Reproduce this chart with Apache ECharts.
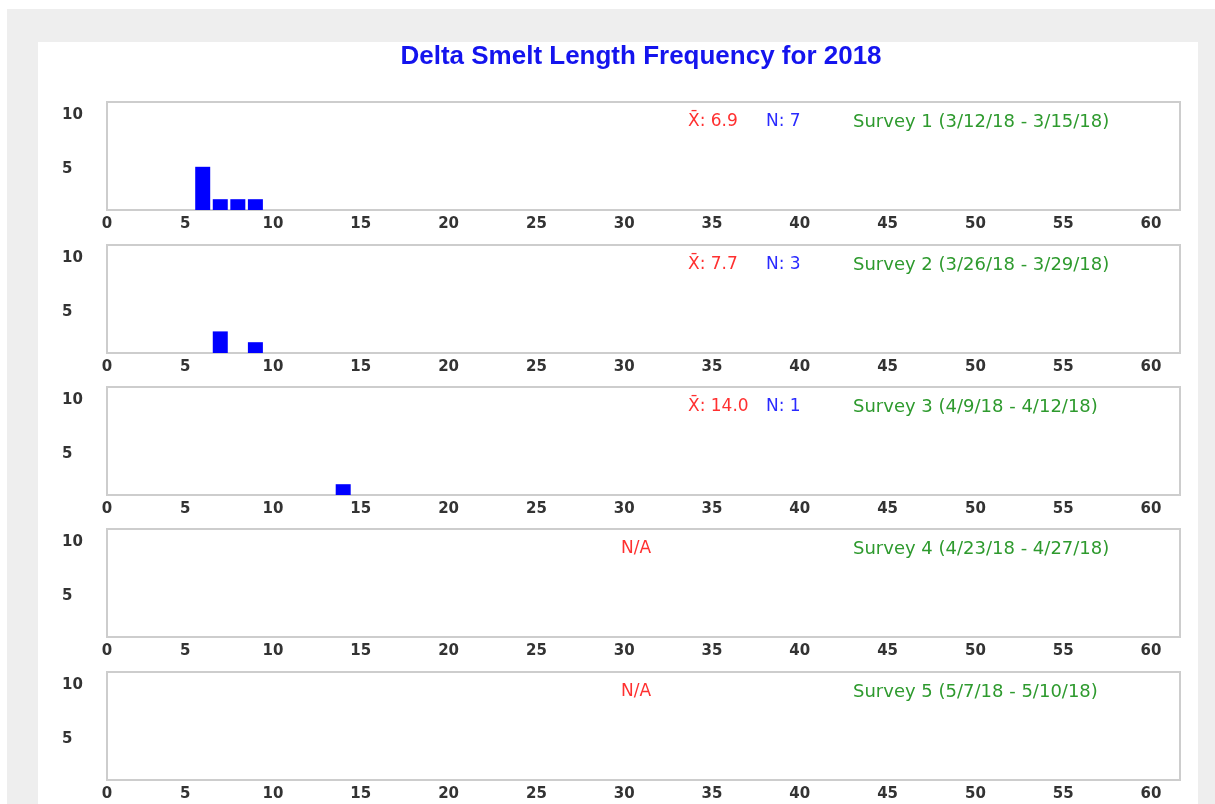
<!DOCTYPE html>
<html>
<head>
<meta charset="utf-8">
<script src="https://cdn.jsdelivr.net/npm/echarts@6/dist/echarts.min.js"></script>
<style>
  html, body { margin: 0; padding: 0; background: #ffffff; }
  #bg { position: absolute; left: 7px; top: 9px; width: 1208px; height: 795px; background: #eeeeee; }
  #panel { position: absolute; left: 38px; top: 42px; width: 1160px; height: 762px; background: #ffffff; }
  #chart { position: absolute; left: 0; top: 0; width: 1215px; height: 804px; }
</style>
</head>
<body>
<div id="bg"></div>
<div id="panel"></div>
<div id="chart"></div>
<script>
const chartTitle = 'Delta Smelt Length Frequency for 2018';
const surveyLabels = [
  'Survey 1 (3/12/18 - 3/15/18)',
  'Survey 2 (3/26/18 - 3/29/18)',
  'Survey 3 (4/9/18 - 4/12/18)',
  'Survey 4 (4/23/18 - 4/27/18)',
  'Survey 5 (5/7/18 - 5/10/18)'
];
// fork length (mm) and fish count per survey
const s1Lengths = [6, 7, 8, 9];
const s1Counts  = [4, 1, 1, 1];
const s2Lengths = [7, 9];
const s2Counts  = [2, 1];
const s3Lengths = [14];
const s3Counts  = [1];
const s4Lengths = [];
const s4Counts  = [];
const s5Lengths = [];
const s5Counts  = [];
const xTickValues = [0, 5, 10, 15, 20, 25, 30, 35, 40, 45, 50, 55, 60];
const xTickLabels = ['0','5','10','15','20','25','30','35','40','45','50','55','60'];
const yTickValues = [5, 10];
const yTickLabels = ['5', '10'];

const surveys = [
  [s1Lengths, s1Counts], [s2Lengths, s2Counts], [s3Lengths, s3Counts],
  [s4Lengths, s4Counts], [s5Lengths, s5Counts]
];

const X_MIN = 0.55, X_MAX = 61.65;
const gridLeft = 107, gridWidth = 1073, gridHeight = 108;
const tops = [102, 245, 387, 529, 672];
const font = '"DejaVu Sans", Verdana, sans-serif';

const grids = [], xAxes = [], yAxes = [], series = [], graphics = [];

graphics.push({
  type: 'text', x: 641, y: 57,
  style: { text: chartTitle, align: 'center', verticalAlign: 'middle',
    fill: '#1414ee', font: 'bold 26px "Liberation Sans", Arial, sans-serif' }
});

surveys.forEach(([lens, cnts], i) => {
  const top = tops[i];
  grids.push({ left: gridLeft, top: top, width: gridWidth, height: gridHeight,
    show: true, borderColor: '#cdcdcd', borderWidth: 2, backgroundColor: '#ffffff' });
  xAxes.push({
    type: 'value', gridIndex: i, min: X_MIN, max: X_MAX,
    axisLine: { show: false }, axisTick: { show: false }, splitLine: { show: false },
    axisLabel: {
      customValues: xTickValues.map(v => Math.max(v, X_MIN)),
      formatter: v => xTickLabels[xTickValues.indexOf(v < 1 ? 0 : Math.round(v))],
      color: '#333333', fontSize: 15, fontWeight: 'bold', fontFamily: font, margin: 7
    }
  });
  yAxes.push({
    type: 'value', gridIndex: i, min: 0, max: 10,
    axisLine: { show: false }, axisTick: { show: false }, splitLine: { show: false },
    axisLabel: {
      customValues: yTickValues,
      formatter: v => yTickLabels[yTickValues.indexOf(v)],
      align: 'left', verticalAlign: 'top', padding: [6, 0, 0, 0], margin: 45,
      color: '#333333', fontSize: 15, fontWeight: 'bold', fontFamily: font
    }
  });
  series.push({
    type: 'bar', xAxisIndex: i, yAxisIndex: i, barWidth: 15,
    itemStyle: { color: '#0000ff' }, silent: true,
    data: lens.map((l, k) => [l, cnts[k]])
  });
  const n = cnts.reduce((a, b) => a + b, 0);
  const ty = top + 20;
  if (n > 0) {
    const mean = lens.reduce((a, l, k) => a + l * cnts[k], 0) / n;
    graphics.push({ type: 'text', x: 688, y: ty,
      style: { text: 'X\u0304: ' + mean.toFixed(1), verticalAlign: 'middle', fill: '#ff3030', font: '17px ' + font } });
    graphics.push({ type: 'text', x: 766, y: ty,
      style: { text: 'N: ' + n, verticalAlign: 'middle', fill: '#2a2aff', font: '17px ' + font } });
  } else {
    graphics.push({ type: 'text', x: 621, y: ty,
      style: { text: 'N/A', verticalAlign: 'middle', fill: '#ff3030', font: '17px ' + font } });
  }
  graphics.push({ type: 'text', x: 853, y: ty,
    style: { text: surveyLabels[i], verticalAlign: 'middle', fill: '#2e9a2e', font: '18px ' + font } });
});

const chart = echarts.init(document.getElementById('chart'), null, { renderer: 'canvas' });
chart.setOption({
  backgroundColor: 'transparent',
  animation: false,
  grid: grids, xAxis: xAxes, yAxis: yAxes, series: series, graphic: graphics
});
</script>
</body>
</html>
